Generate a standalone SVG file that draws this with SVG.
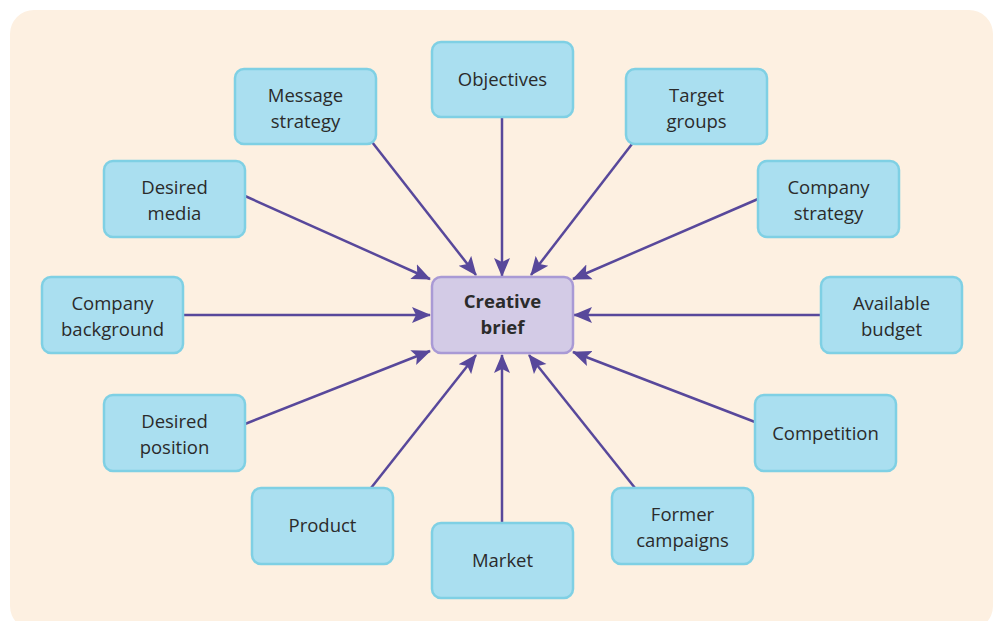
<svg xmlns="http://www.w3.org/2000/svg" width="995" height="621" viewBox="0 0 995 621">
<style>
.bg{fill:#fdf0e1}
.n rect{fill:#aadff0;stroke:#7fd0e4;stroke-width:2.5}
.c rect{fill:#d3cbe6;stroke:#a99ad5;stroke-width:2.5}
text{font-family:"Open Sans","Noto Sans","Liberation Sans",sans-serif;font-size:18.5px;fill:#2b2b2b;text-anchor:middle}
.c text{font-weight:bold}
.e line{stroke:#58489b;stroke-width:2.5;marker-end:url(#ah)}
</style>
<defs>
<marker id="ah" markerUnits="userSpaceOnUse" markerWidth="20" markerHeight="18" refX="18" refY="9" orient="auto">
<path d="M0,1 L19,9 L0,17 L4,9 z" fill="#58489b"/>
</marker>
</defs>
<rect class="bg" x="10" y="10" width="983" height="620" rx="24"/>
<g id="edges" class="e">
<line x1="502" y1="117" x2="502" y2="276"/>
<line x1="372" y1="142" x2="476" y2="275"/>
<line x1="632" y1="144" x2="531" y2="275"/>
<line x1="245" y1="196" x2="430" y2="279"/>
<line x1="758" y1="199" x2="573" y2="279"/>
<line x1="183" y1="315" x2="430" y2="315"/>
<line x1="821" y1="315" x2="574" y2="315"/>
<line x1="245" y1="424" x2="430" y2="351"/>
<line x1="755" y1="422" x2="573" y2="352"/>
<line x1="371" y1="488" x2="476" y2="355"/>
<line x1="635" y1="488" x2="529" y2="355"/>
<line x1="502" y1="523" x2="502" y2="355"/>
</g>
<g id="objectives" class="n"><rect x="432" y="42" width="141" height="75" rx="9"/><text x="502.5" y="86">Objectives</text></g>
<g id="message-strategy" class="n"><rect x="235" y="69" width="141" height="75" rx="9"/><text x="305.5" y="102">Message</text><text x="305.5" y="128">strategy</text></g>
<g id="target-groups" class="n"><rect x="626" y="69" width="141" height="75" rx="9"/><text x="696.5" y="102">Target</text><text x="696.5" y="128">groups</text></g>
<g id="desired-media" class="n"><rect x="104" y="161" width="141" height="76" rx="9"/><text x="174.5" y="194">Desired</text><text x="174.5" y="220">media</text></g>
<g id="company-strategy" class="n"><rect x="758" y="161" width="141" height="76" rx="9"/><text x="828.5" y="194">Company</text><text x="828.5" y="220">strategy</text></g>
<g id="company-background" class="n"><rect x="42" y="277" width="141" height="76" rx="9"/><text x="112.5" y="310">Company</text><text x="112.5" y="336">background</text></g>
<g id="creative-brief" class="c"><rect x="432" y="277" width="141" height="76" rx="9"/><text x="502.5" y="308">Creative</text><text x="502.5" y="334">brief</text></g>
<g id="available-budget" class="n"><rect x="821" y="277" width="141" height="76" rx="9"/><text x="891.5" y="310">Available</text><text x="891.5" y="336">budget</text></g>
<g id="desired-position" class="n"><rect x="104" y="395" width="141" height="76" rx="9"/><text x="174.5" y="428">Desired</text><text x="174.5" y="454">position</text></g>
<g id="competition" class="n"><rect x="755" y="395" width="141" height="76" rx="9"/><text x="825.5" y="440">Competition</text></g>
<g id="product" class="n"><rect x="252" y="488" width="141" height="76" rx="9"/><text x="322.5" y="532">Product</text></g>
<g id="former-campaigns" class="n"><rect x="612" y="488" width="141" height="76" rx="9"/><text x="682.5" y="521">Former</text><text x="682.5" y="547">campaigns</text></g>
<g id="market" class="n"><rect x="432" y="523" width="141" height="75" rx="9"/><text x="502.5" y="567">Market</text></g>
</svg>
